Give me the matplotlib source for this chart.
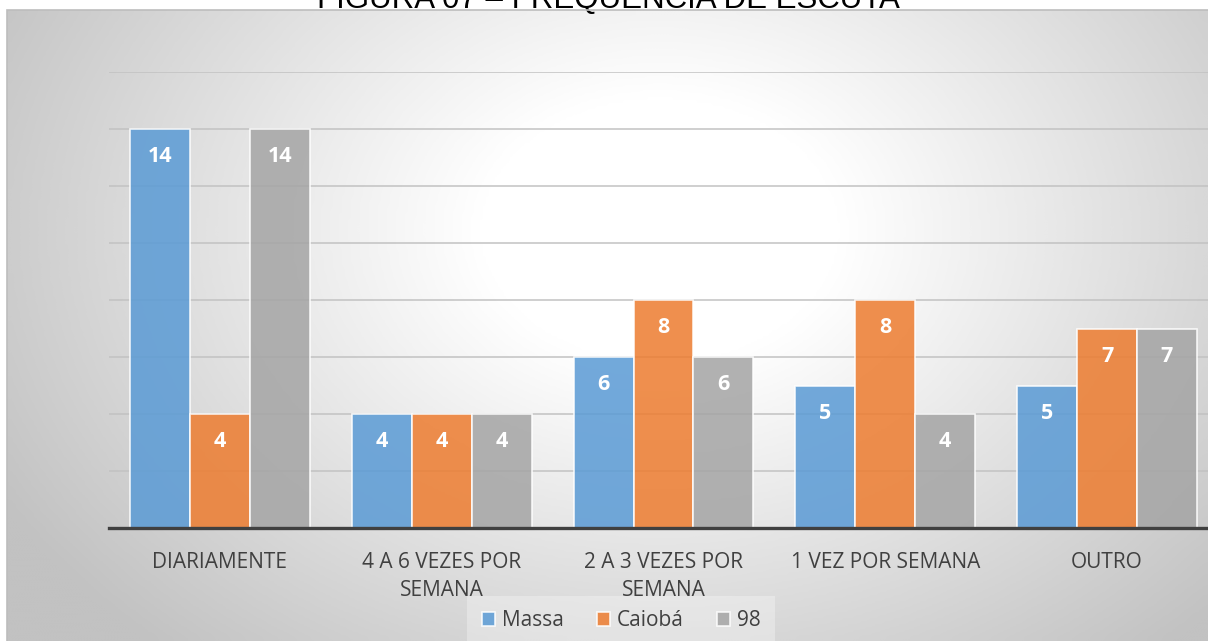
import matplotlib.pyplot as plt
import numpy as np
from matplotlib.patches import Rectangle

categorias = ["DIARIAMENTE", "4 A 6 VEZES POR\nSEMANA", "2 A 3 VEZES POR\nSEMANA",
              "1 VEZ POR SEMANA", "OUTRO"]
massa = [14, 4, 6, 5, 5]
caioba = [4, 4, 8, 8, 7]
radio98 = [14, 4, 6, 4, 7]
series = ["Massa", "Caiobá", "98"]
cores = ["#5B9BD5", "#ED7D31", "#A5A5A5"]

W, H = 1208, 641
fig = plt.figure(figsize=(W / 100, H / 100), dpi=100)
fig.patch.set_facecolor("white")

# fundo da área do gráfico: gradiente radial claro no centro
bg = fig.add_axes([7 / W, 0, 1 - 7 / W, 1 - 10 / H])
bg.set_axis_off()
xx, yy = np.meshgrid(np.linspace(7, W, 400), np.linspace(10, H, 220))
d = np.sqrt(((xx - 660) / 700) ** 2 + ((yy - 230) / 520) ** 2)
v = np.clip(1.0 - (d - 0.25) * 0.29, 0.76, 1.0)
bg.imshow(v, cmap="gray", vmin=0, vmax=1, aspect="auto", extent=[0, 1, 0, 1],
          interpolation="bicubic")
bg.set_xlim(0, 1)
bg.set_ylim(0, 1)
fig.patches.append(Rectangle((7 / W, -0.01), 1, 1 - 10 / H + 0.01, transform=fig.transFigure,
                             fill=False, edgecolor="#bdbdbd", lw=1.2, zorder=5))

ax = fig.add_axes([109 / W, (H - 528) / H, (1218 - 109) / W, (528 - 72) / H])
ax.patch.set_alpha(0)

x = np.arange(len(categorias))
w = 0.27
for i, (vals, cor) in enumerate(zip([massa, caioba, radio98], cores)):
    pos = x + (i - 1) * w
    ax.bar(pos, vals, w, color=cor, alpha=0.86, edgecolor=(1, 1, 1, 0.35),
           linewidth=1.2, label=series[i], zorder=3)
    for xb, val in zip(pos, vals):
        ax.annotate(str(val), (xb, val), xytext=(0, -20), textcoords="offset points",
                    ha="center", va="center", color="white", fontsize=15.5,
                    fontweight="bold", family="Open Sans", zorder=4)

ax.set_xlim(-0.5, len(categorias) - 0.5)
ax.set_ylim(0, 16)
ax.set_yticks(np.arange(2, 17, 2))
ax.yaxis.grid(True, color="#c2c2c2", lw=1.1, zorder=0)
ax.tick_params(axis="y", left=False, labelleft=False)
ax.tick_params(axis="x", length=0, pad=17)
ax.set_xticks(x)
ax.set_xticklabels(categorias, fontsize=15, color="#404040", family="Open Sans",
                   linespacing=1.45)
for s in ["top", "right", "left"]:
    ax.spines[s].set_visible(False)
ax.spines["bottom"].set_color("#404040")
ax.spines["bottom"].set_linewidth(2.4)
ax.spines["bottom"].set_zorder(5)

leg = fig.legend(loc="center", bbox_to_anchor=(621 / W, 1 - 621 / H), ncol=3,
                 frameon=True, fancybox=False, framealpha=0.3,
                 handlelength=0.65, handleheight=0.65,
                 handletextpad=0.3, columnspacing=1.6, borderpad=0.7,
                 prop={"family": "Open Sans", "size": 15})
leg.get_frame().set_facecolor("white")
leg.get_frame().set_edgecolor("none")
for t in leg.get_texts():
    t.set_color("#404040")

fig.text(608 / W, 1 - 8 / H, "FIGURA 07 – FREQUÊNCIA DE ESCUTA", ha="center",
         va="baseline", fontsize=22.5, family="Liberation Sans", color="black")

fig.savefig("out.png", dpi=100)
